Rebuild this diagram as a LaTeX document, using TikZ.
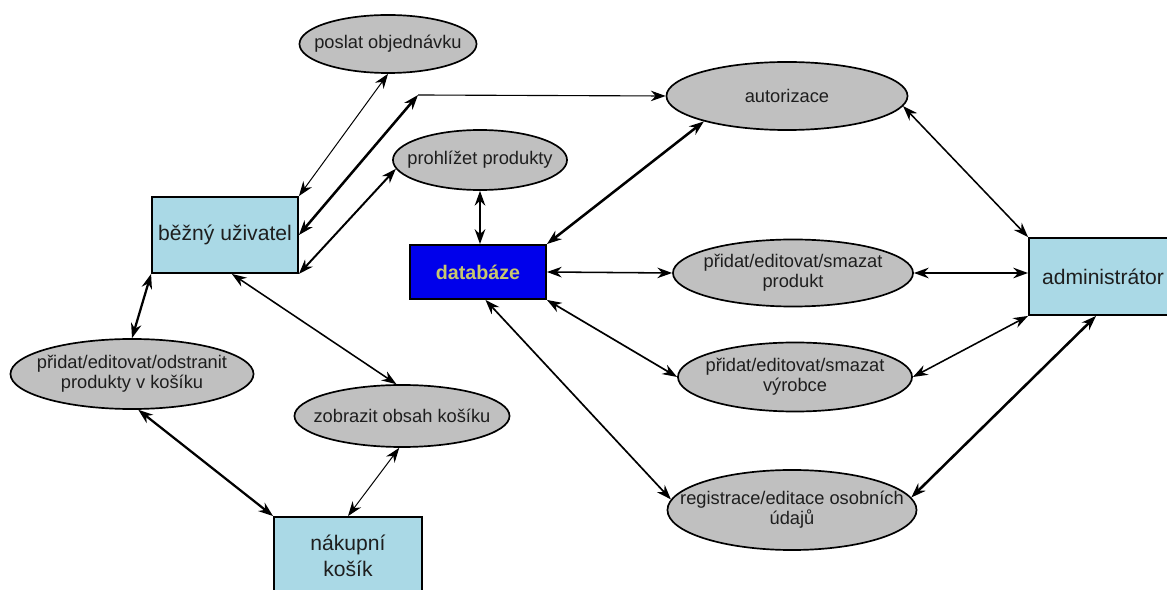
\documentclass[tikz,border=0pt]{standalone}
\usepackage{fontspec}
\setmainfont{Liberation Sans}
\usetikzlibrary{shapes}
\usetikzlibrary{arrows.meta}
\definecolor{boxblue}{RGB}{170,217,230}
\definecolor{ellgray}{RGB}{192,192,192}
\definecolor{dbblue}{RGB}{0,0,235}
\definecolor{dbtext}{RGB}{200,200,110}
\definecolor{ink}{RGB}{30,30,30}

\begin{document}
\begin{tikzpicture}[x=0.025cm, y=-0.025cm,
  usecase/.style={ellipse, draw=black, line width=1.2pt, fill=ellgray, text=ink, inner xsep=-1.5cm, inner ysep=0pt, align=center, font=\fontsize{13}{14}\selectfont},
  actor/.style={rectangle, draw=black, line width=1.3pt, fill=boxblue, text=ink, align=center, font=\fontsize{15}{18.5}\selectfont},
  store/.style={rectangle, draw=black, line width=1.3pt, fill=dbblue, text=dbtext, font=\bfseries\fontsize{14}{16}\selectfont},
  >={Stealth[length=10.5pt,width=7.5pt]}]

\clip (0,0) rectangle (1167,590);

\node[usecase, minimum width=4.425cm, minimum height=1.45cm] (poslat) at (388,44) {poslat objednávku};
\node[usecase, minimum width=4.35cm, minimum height=1.5cm] (prohlizet) at (480,160) {prohlížet produkty};
\node[usecase, minimum width=6.025cm, minimum height=1.7cm] (autorizace) at (787,96) {autorizace};
\node[usecase, minimum width=6cm, minimum height=1.675cm] (produkt) at (793,273) {přidat/editovat/smazat\\produkt};
\node[usecase, minimum width=5.85cm, minimum height=1.725cm] (vyrobce) at (795,377) {přidat/editovat/smazat\\výrobce};
\node[usecase, minimum width=6.225cm, minimum height=2cm] (registrace) at (792,510) {registrace/editace osobních\\údajů};
\node[usecase, minimum width=6.075cm, minimum height=1.75cm] (kosikedit) at (132,374) {přidat/editovat/odstranit\\produkty v košíku};
\node[usecase, minimum width=5.375cm, minimum height=1.55cm] (zobrazit) at (402,416) {zobrazit obsah košíku};

\node[actor, minimum width=3.65cm, minimum height=1.9cm] (uzivatel) at (225,235) {běžný uživatel};
\node[actor, minimum width=3.7cm, minimum height=1.925cm] (admin) at (1103,276.5) {administrátor};
\node[actor, minimum width=3.7cm, minimum height=1.95cm] (kosik) at (348,556) {nákupní\\košík};
\node[store, minimum width=3.4cm, minimum height=1.35cm] (databaze) at (478,272) {databáze};

\coordinate (bend) at (418,95);

\draw[<->, line width=0.7pt] (uzivatel.north east) -- (poslat.south);
\draw[<->, line width=1.8pt] (uzivatel.east) -- (bend);
\draw[->, line width=0.8pt] (bend) -- (autorizace.west);
\draw[<->, line width=1.4pt] (uzivatel.south east) -- (prohlizet.186);
\draw[<->, line width=1.6pt] (prohlizet.south) -- (prohlizet.south |- databaze.north);
\draw[<->, line width=1.8pt] (databaze.north east) -- (autorizace.197);
\draw[<->, line width=1.1pt] (databaze.east) -- (produkt.west);
\draw[<->, line width=1.2pt] (databaze.south east) -- (vyrobce.west);
\draw[<->, line width=1.2pt] (databaze.-75) -- (registrace.175);
\draw[<->, line width=1.1pt] (autorizace.-5) -- (admin.north west);
\draw[<->, line width=1.4pt] (produkt.east) -- (produkt.east -| admin.west);
\draw[<->, line width=1.1pt] (vyrobce.east) -- (admin.south west);
\draw[<->, line width=1.8pt] (registrace.6) -- (admin.-100);
\draw[<->, line width=1.6pt] (uzivatel.south west) -- (kosikedit.north);
\draw[<->, line width=1.1pt] (uzivatel.-80) -- (zobrazit.100);
\draw[<->, line width=1.6pt] (kosikedit.-80) -- (kosik.north west);
\draw[<->, line width=0.7pt] (zobrazit.-95) -- (kosik.north);
\end{tikzpicture}
\end{document}
